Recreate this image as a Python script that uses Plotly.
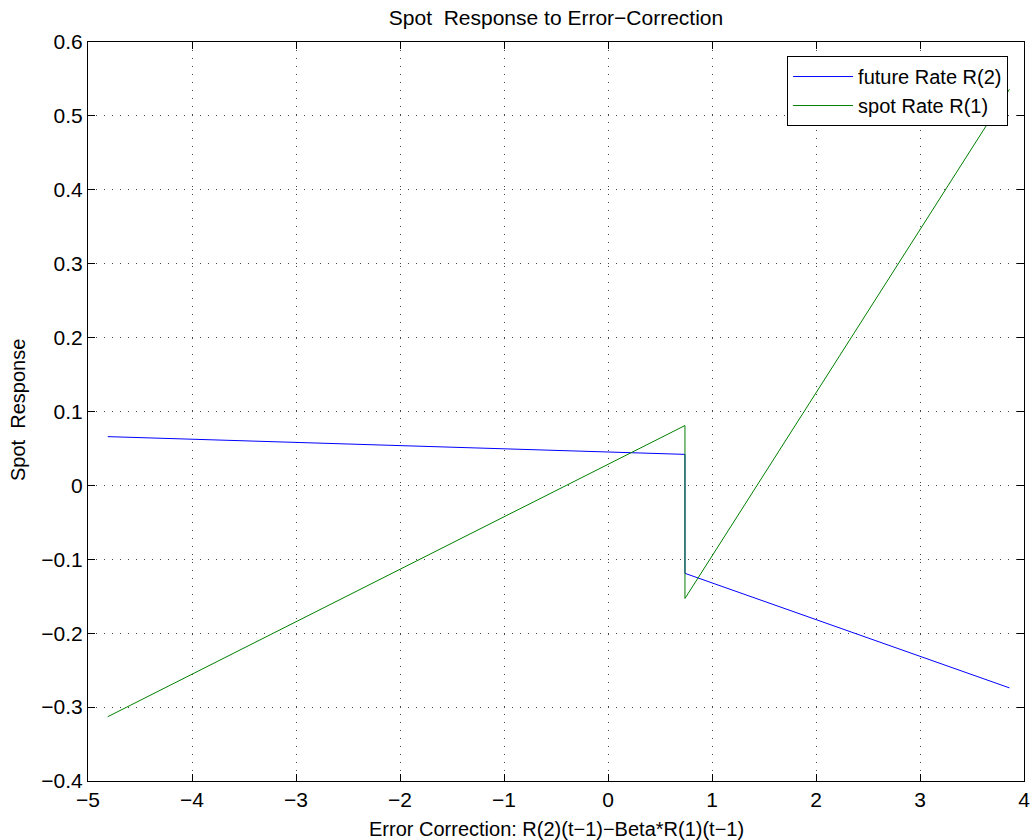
import plotly.graph_objects as go

future_x = [-4.81, 0.74, 0.74, 3.86]
future_y = [0.066, 0.042, -0.119, -0.274]
spot_x = [-4.81, 0.74, 0.74, 3.86]
spot_y = [-0.313, 0.081, -0.153, 0.536]

x_ticks = [-5, -4, -3, -2, -1, 0, 1, 2, 3, 4]
y_ticks = [-0.4, -0.3, -0.2, -0.1, 0, 0.1, 0.2, 0.3, 0.4, 0.5, 0.6]


def fmt(v):
    s = ("%g" % v)
    return s.replace("-", "\u2212")


fig = go.Figure()
fig.add_trace(go.Scatter(x=future_x, y=future_y, mode="lines", name="future Rate R(2)",
                         line=dict(color="#0000ff", width=1)))
fig.add_trace(go.Scatter(x=spot_x, y=spot_y, mode="lines", name="spot Rate R(1)",
                         line=dict(color="#008000", width=1)))

font = "Liberation Sans, Arial, Helvetica, sans-serif"
axis_common = dict(showline=True, linecolor="black", linewidth=1, mirror="ticks",
                   ticks="inside", ticklen=7, tickcolor="black", automargin=False,
                   showgrid=True, gridcolor="#444444", griddash="1px,7px", gridwidth=1,
                   zeroline=False, tickfont=dict(size=21, color="black", family=font))
fig.update_xaxes(range=[-5, 4], tickmode="array", tickvals=x_ticks,
                 ticktext=[fmt(v) for v in x_ticks], **axis_common)
fig.update_yaxes(range=[-0.4, 0.6], tickmode="array", tickvals=y_ticks,
                 ticktext=[fmt(v) for v in y_ticks], **axis_common)
fig.update_layout(
    width=1032, height=840,
    margin=dict(l=88, r=8, t=42, b=59, autoexpand=False),
    paper_bgcolor="white", plot_bgcolor="white",
    title=dict(text="Spot  Response to Error\u2212Correction", x=(88 + 1024) / 2 / 1032, xanchor="center",
               y=1 - 18 / 840, yanchor="middle",
               font=dict(size=21, color="black", family=font)),
    legend=dict(x=0.983, y=0.981, xanchor="right", yanchor="top",
                bgcolor="white", bordercolor="black", borderwidth=1, tracegroupgap=0,
                itemwidth=60,
                font=dict(size=20, color="black", family=font)),
    showlegend=True,
    annotations=[
        dict(text="Error Correction: R(2)(t\u22121)\u2212Beta*R(1)(t\u22121)", xref="paper", yref="paper",
             x=(556 - 88) / 936, y=-48 / 739, xanchor="center", yanchor="middle", showarrow=False,
             font=dict(size=20, color="black", family=font)),
        dict(text="Spot  Response", xref="paper", yref="paper", textangle=-90,
             x=-70 / 936, y=(781 - 410) / 739, xanchor="center", yanchor="middle", showarrow=False,
             font=dict(size=20, color="black", family=font)),
    ],
)
fig.write_html("out.html", config={"displayModeBar": False},
               post_script="document.body.style.margin='0';document.body.style.overflow='hidden';")
